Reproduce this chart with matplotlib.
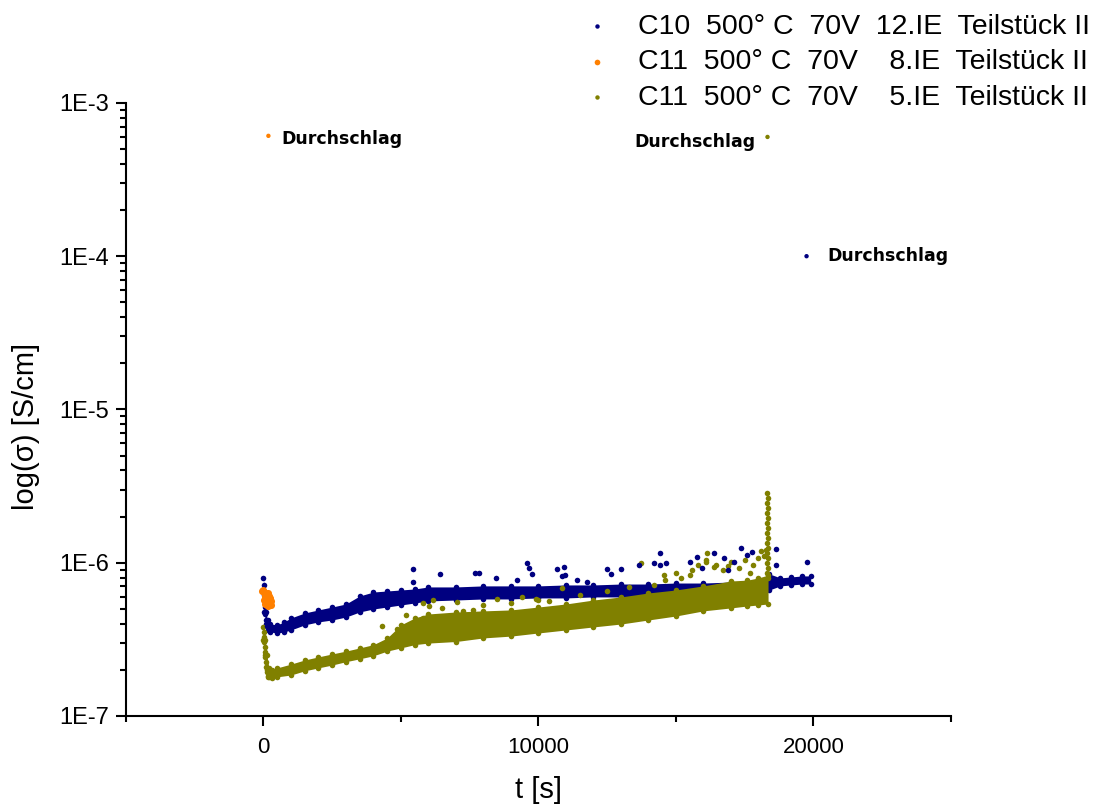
import numpy as np
import matplotlib.pyplot as plt
from matplotlib.ticker import FixedLocator, NullFormatter

plt.rcParams['font.family'] = ['Liberation Sans', 'DejaVu Sans']

# --- C10 500°C 70V 12.IE : dense band (upper / lower edge of the point cloud)
t_c10 = [0, 30, 80, 150, 250, 500, 750, 1000, 1500, 2000, 2500, 3000, 3500, 4000, 4500, 5000,
         5500, 6000, 7000, 8000, 9000, 10000, 11000, 12000, 13000, 14000, 15000, 16000, 17000,
         18000, 18400, 18800, 19200, 19600, 19900]
c10_hi = [7.96e-7, 6.16e-7, 4.77e-7, 4.23e-7, 3.98e-7, 3.93e-7, 4.11e-7, 4.36e-7, 4.70e-7, 4.92e-7,
          5.14e-7, 5.38e-7, 6.07e-7, 6.44e-7, 6.54e-7, 6.64e-7, 6.74e-7, 6.95e-7, 6.95e-7, 7.06e-7,
          7.06e-7, 7.06e-7, 7.16e-7, 7.16e-7, 7.26e-7, 7.26e-7, 7.37e-7, 7.37e-7, 7.48e-7, 7.60e-7,
          8.45e-7, 7.96e-7, 8.08e-7, 8.20e-7, 8.20e-7]
c10_lo = [6.64e-7, 4.77e-7, 3.98e-7, 3.64e-7, 3.53e-7, 3.48e-7, 3.53e-7, 3.64e-7, 3.93e-7, 4.11e-7,
          4.23e-7, 4.42e-7, 4.77e-7, 4.99e-7, 5.14e-7, 5.30e-7, 5.46e-7, 5.63e-7, 5.71e-7, 5.80e-7,
          5.80e-7, 5.89e-7, 5.89e-7, 5.98e-7, 5.98e-7, 5.98e-7, 6.07e-7, 6.07e-7, 6.16e-7, 6.26e-7,
          6.64e-7, 7.06e-7, 7.16e-7, 7.26e-7, 7.26e-7]
# single points: initial drop and scatter above the band
t_c10_pts = [10, 20, 30, 50, 70, 100, 130,
             5435, 5435, 6413, 7681, 7826, 8442, 9203, 9601, 9674, 9783, 10688, 10942, 10870,
             10978, 11413, 11775, 12500, 12645, 13007, 13659, 14203, 14420, 14420, 14638, 15507,
             15761, 15942, 16739, 17101, 17355, 17572, 17754, 18623, 18623, 19783, 16380, 16900]
c10_pts = [7.16e-7, 6.44e-7, 5.71e-7, 5.14e-7, 4.63e-7, 4.23e-7, 3.87e-7,
           9.1e-7, 7.48e-7, 8.45e-7, 8.57e-7, 8.57e-7, 7.96e-7, 7.71e-7, 9.96e-7, 9.24e-7, 8.45e-7,
           9.1e-7, 9.37e-7, 8.2e-7, 8.3e-7, 7.7e-7, 7.5e-7, 9.1e-7, 8.45e-7, 9.1e-7, 9.67e-7,
           9.96e-7, 1.16e-6, 9.67e-7, 9.96e-7, 1.01e-6, 1.09e-6, 9.24e-7, 1.07e-6, 1.01e-6, 1.25e-6,
           1.13e-6, 1.18e-6, 1.23e-6, 9.67e-7, 1.01e-6, 1.16e-6, 9.0e-7]

# --- C11 500°C 70V 8.IE
t_c11a = [0, 20, 40, 60, 80, 100, 120, 140, 160, 180, 200, 220, 240, 260, 280, 150, 200, 250, 100, 50, -40, 10]
c11a = [6.6e-7, 6.4e-7, 6.2e-7, 6.0e-7, 5.8e-7, 5.6e-7, 5.5e-7, 5.3e-7, 5.2e-7, 5.4e-7, 5.6e-7,
        5.9e-7, 5.5e-7, 5.3e-7, 5.6e-7, 6.3e-7, 6.1e-7, 5.8e-7, 6.3e-7, 5.4e-7, 6.5e-7, 5.7e-7]

# --- C11 500°C 70V 5.IE : dense band
t_c11b = [0, 60, 120, 200, 300, 500, 1000, 1500, 2000, 2500, 3000, 3500, 4000, 4500, 5000, 5500,
          6000, 7000, 8000, 9000, 10000, 11000, 12000, 13000, 14000, 15000, 16000, 17000, 17600,
          18000, 18350]
c11b_hi = [3.81e-7, 3.13e-7, 2.50e-7, 2.06e-7, 2.00e-7, 2.06e-7, 2.18e-7, 2.32e-7, 2.43e-7, 2.54e-7,
           2.65e-7, 2.78e-7, 2.92e-7, 3.23e-7, 3.93e-7, 4.36e-7, 4.63e-7, 4.77e-7, 4.85e-7, 4.92e-7,
           5.14e-7, 5.38e-7, 5.71e-7, 5.98e-7, 6.35e-7, 6.64e-7, 7.06e-7, 7.6e-7, 7.7e-7, 7.96e-7,
           8.3e-7]
c11b_lo = [3.13e-7, 2.50e-7, 2.00e-7, 1.80e-7, 1.77e-7, 1.80e-7, 1.85e-7, 1.97e-7, 2.06e-7, 2.15e-7,
           2.26e-7, 2.36e-7, 2.47e-7, 2.65e-7, 2.78e-7, 2.92e-7, 2.99e-7, 3.06e-7, 3.23e-7, 3.32e-7,
           3.48e-7, 3.64e-7, 3.81e-7, 3.98e-7, 4.23e-7, 4.49e-7, 4.85e-7, 5.07e-7, 5.22e-7, 5.30e-7,
           5.38e-7]
t_c11b_pts = [10, 20, 30, 40, 50, 70, 90, 110, 130, 150, 170,
              4300, 4844, 5797, 6159, 6014, 5797, 7029, 7246, 7609, 8478, 9420, 9928, 10399, 10870,
              13732, 14565, 15000, 15580, 16087, 16123, 16449, 18080, 18261, 5200, 6500, 8000, 9000,
              10000, 11500, 12500, 13300, 14200, 14600, 15500, 15800, 16100, 16400, 16700, 17000,
              17300, 17500, 17800, 18000, 18200, 15200, 16900, 17700]
c11b_pts = [3.53e-7, 3.28e-7, 3.04e-7, 2.82e-7, 2.62e-7, 2.43e-7, 2.26e-7, 2.09e-7, 1.94e-7, 1.83e-7, 1.80e-7,
            3.87e-7, 3.7e-7, 5.46e-7, 5.71e-7, 5.2e-7, 4.36e-7, 5.55e-7, 4.85e-7, 4.9e-7, 5.8e-7,
            6.0e-7, 5.8e-7, 5.6e-7, 6.84e-7, 9.96e-7, 8.3e-7, 8.57e-7, 8.97e-7, 1.01e-6, 1.16e-6,
            9.67e-7, 1.19e-6, 1.21e-6, 4.56e-7, 5.07e-7, 5.30e-7, 5.46e-7, 5.71e-7, 6.2e-7, 6.5e-7,
            6.9e-7, 7.16e-7, 7.71e-7, 8.32e-7, 9.67e-7, 1.04e-6, 9.37e-7, 8.97e-7, 1.01e-6, 9.24e-7,
            1.04e-6, 9.67e-7, 1.07e-6, 1.10e-6, 8.0e-7, 9.5e-7, 8.6e-7]
# vertical spike just before breakdown
t_spike = [18320, 18330, 18320, 18330, 18320, 18330, 18320, 18330, 18320, 18330, 18320, 18330,
           18320, 18330, 18320, 18330, 18320, 18330]
c11b_spike = [2.85e-6, 2.65e-6, 2.46e-6, 2.28e-6, 2.11e-6, 1.96e-6, 1.82e-6, 1.69e-6, 1.56e-6,
              1.45e-6, 1.35e-6, 1.25e-6, 1.16e-6, 1.07e-6, 9.96e-7, 9.24e-7, 8.57e-7, 7.96e-7]

# breakdown points ("Durchschlag")
t_break = [19750, 180, 18330]
v_break = [1.0e-4, 6.1e-4, 6.0e-4]

blue, orange, olive = '#000080', '#ff8000', '#808000'
labels = ['C10  500° C  70V  12.IE  Teilstück II',
          'C11  500° C  70V    8.IE  Teilstück II',
          'C11  500° C  70V    5.IE  Teilstück II']

fig = plt.figure(figsize=(11.02, 8.08), dpi=100)
ax = fig.add_axes([0.1143, 0.1139, 0.7486, 0.7587])
ax.set_yscale('log')

ms = 16
# C10
ax.fill_between(t_c10, c10_lo, c10_hi, color=blue, lw=0)
ax.scatter(t_c10, c10_hi, s=ms, color=blue, lw=0)
ax.scatter(t_c10, c10_lo, s=ms, color=blue, lw=0)
h1 = ax.scatter(t_c10_pts, c10_pts, s=ms, color=blue, lw=0, zorder=3)
# C11 8.IE
h2 = ax.scatter(t_c11a, c11a, s=26, color=orange, lw=0, zorder=4)
# C11 5.IE
ax.fill_between(t_c11b, c11b_lo, c11b_hi, color=olive, lw=0, zorder=2)
ax.scatter(t_c11b, c11b_hi, s=ms, color=olive, lw=0, zorder=2)
ax.scatter(t_c11b, c11b_lo, s=ms, color=olive, lw=0, zorder=2)
h3 = ax.scatter(t_c11b_pts, c11b_pts, s=ms, color=olive, lw=0, zorder=2)
ax.scatter(t_spike, c11b_spike, s=ms, color=olive, lw=0, zorder=2)

# breakdown markers + labels
ax.scatter(t_break, v_break, s=10, color=[blue, orange, olive], lw=0, zorder=4)
offsets = [(15, 0), (9, -2), (-9, -4)]
aligns = ['left', 'left', 'right']
for t, v, off, ha in zip(t_break, v_break, offsets, aligns):
    ax.annotate('Durchschlag', (t, v), xytext=off, textcoords='offset points',
                ha=ha, va='center', fontsize=12.5, fontweight='bold', family='DejaVu Sans')

ax.set_xlim(-5000, 25000)
ax.set_ylim(1e-7, 1e-3)

ax.xaxis.set_major_locator(FixedLocator([0, 10000, 20000]))
ax.xaxis.set_minor_locator(FixedLocator([-5000, 5000, 15000, 25000]))
ax.yaxis.set_major_locator(FixedLocator([1e-7, 1e-6, 1e-5, 1e-4, 1e-3]))
ax.set_yticklabels(['1E-7', '1E-6', '1E-5', '1E-4', '1E-3'])
ax.yaxis.set_minor_locator(FixedLocator([m * 10.0 ** e for e in range(-7, -3) for m in range(2, 10)]))
ax.yaxis.set_minor_formatter(NullFormatter())

for side in ['top', 'right']:
    ax.spines[side].set_visible(False)
for side in ['left', 'bottom']:
    ax.spines[side].set_linewidth(1.5)
ax.tick_params(which='major', direction='out', length=7, width=1.5, labelsize=16, pad=5)
ax.tick_params(axis='y', which='major', labelsize=17)
ax.tick_params(axis='x', which='major', pad=8)
ax.tick_params(which='minor', direction='out', length=4, width=1.5)

ax.set_xlabel('t [s]', fontsize=21)
ax.set_ylabel('log(σ) [S/cm]', fontsize=21)
ax.xaxis.set_label_coords(0.5, -0.098)
ax.yaxis.set_label_coords(-0.104, 0.473)

fig.legend([h1, h2, h3], labels, loc='upper left', bbox_to_anchor=(0.529, 0.983),
           frameon=False, fontsize=20.5, handlelength=1.0, handletextpad=0.93,
           labelspacing=0.33, borderpad=0, borderaxespad=0, markerscale=0.8)

fig.savefig('out.png', dpi=100)
